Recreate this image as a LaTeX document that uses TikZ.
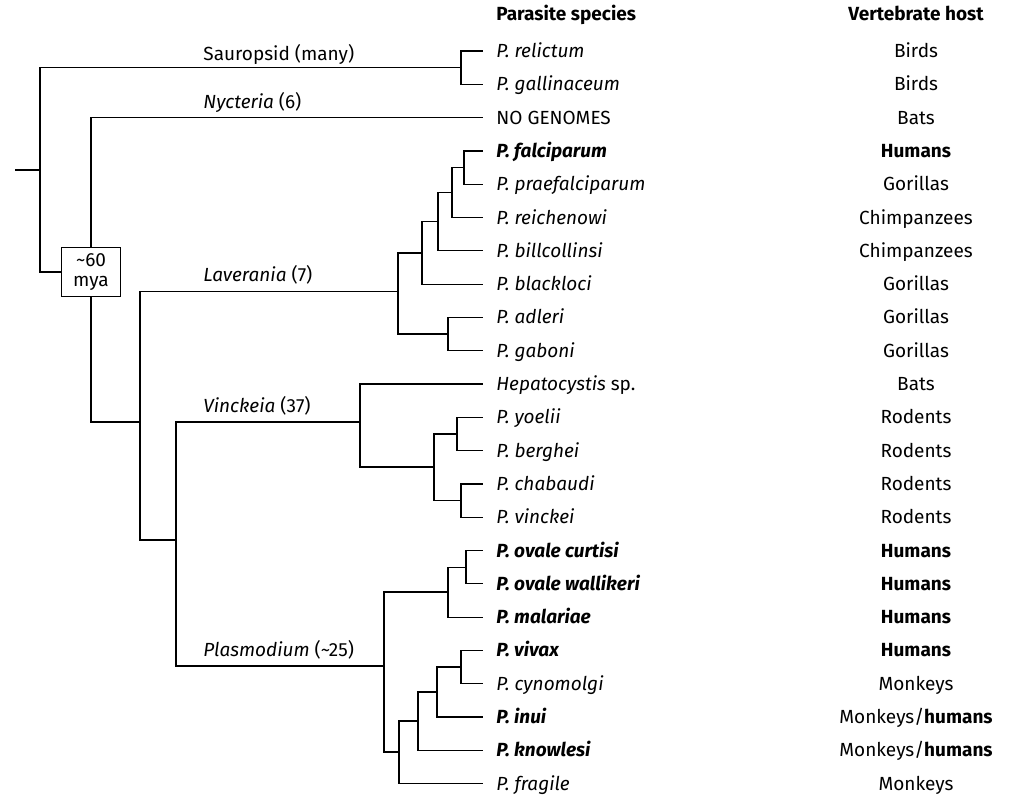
\documentclass[tikz,border=0pt]{standalone}
\usepackage{fontspec}
\setmainfont{Fira Sans}

\tikzset{
    branch/.style={line width=0.6pt},
    leaf/.style={anchor=west, inner xsep=6.5pt, inner ysep=0pt,
        text height=6.5pt, text depth=0pt, font=\fontsize{9.5}{11}\selectfont},
    host/.style={anchor=center, inner sep=0pt,
        text height=6.5pt, text depth=0pt, font=\fontsize{9.5}{11}\selectfont},
    clade/.style={anchor=base west, inner sep=0pt, font=\fontsize{9.5}{11}\selectfont},
    agebox/.style={draw, line width=0.6pt, minimum width=29.5pt, minimum height=24.5pt,
        inner sep=0pt, align=center, font=\fontsize{9.5}{10}\selectfont},
}

\begin{document}
\begin{tikzpicture}[x=0.5pt, y=-0.5pt]
        \useasboundingbox (0,0) rectangle (1010,797);

        % Column headers
        \node[leaf, font=\fontsize{9.5}{11}\selectfont\bfseries] (hspec) at (483,14.5) {Parasite species};
        \node[host, font=\fontsize{9.5}{11}\selectfont\bfseries] (hhost) at (916,14.5) {Vertebrate host};

        % Parasite species (tips)
        \node[leaf] (rel) at (483,51) {\textit{P. relictum}};
        \node[leaf] (gal) at (483,84.3) {\textit{P. gallinaceum}};
        \node[leaf] (nyc) at (483,117.6) {NO GENOMES};
        \node[leaf] (fal) at (483,150.9) {\textbf{\textit{P. falciparum}}};
        \node[leaf] (pra) at (483,184.2) {\textit{P. praefalciparum}};
        \node[leaf] (rei) at (483,217.5) {\textit{P. reichenowi}};
        \node[leaf] (bil) at (483,250.8) {\textit{P. billcollinsi}};
        \node[leaf] (bla) at (483,284.1) {\textit{P. blackloci}};
        \node[leaf] (adl) at (483,317.4) {\textit{P. adleri}};
        \node[leaf] (gab) at (483,350.7) {\textit{P. gaboni}};
        \node[leaf] (hep) at (483,384) {\textit{Hepatocystis} sp.};
        \node[leaf] (yoe) at (483,417.3) {\textit{P. yoelii}};
        \node[leaf] (ber) at (483,450.6) {\textit{P. berghei}};
        \node[leaf] (cha) at (483,483.9) {\textit{P. chabaudi}};
        \node[leaf] (vin) at (483,517.2) {\textit{P. vinckei}};
        \node[leaf] (cur) at (483,550.5) {\textbf{\textit{P. ovale curtisi}}};
        \node[leaf] (wal) at (483,583.8) {\textbf{\textit{P. ovale wallikeri}}};
        \node[leaf] (mal) at (483,617.1) {\textbf{\textit{P. malariae}}};
        \node[leaf] (viv) at (483,650.4) {\textbf{\textit{P. vivax}}};
        \node[leaf] (cyn) at (483,683.7) {\textit{P. cynomolgi}};
        \node[leaf] (inu) at (483,717) {\textbf{\textit{P. inui}}};
        \node[leaf] (kno) at (483,750.3) {\textbf{\textit{P. knowlesi}}};
        \node[leaf] (fra) at (483,783.6) {\textit{P. fragile}};

        % Vertebrate hosts
        \node[host] (hrel) at (916,51) {Birds};
        \node[host] (hgal) at (916,84.3) {Birds};
        \node[host] (hnyc) at (916,117.6) {Bats};
        \node[host] (hfal) at (916,150.9) {\textbf{Humans}};
        \node[host] (hpra) at (916,184.2) {Gorillas};
        \node[host] (hrei) at (916,217.5) {Chimpanzees};
        \node[host] (hbil) at (916,250.8) {Chimpanzees};
        \node[host] (hbla) at (916,284.1) {Gorillas};
        \node[host] (hadl) at (916,317.4) {Gorillas};
        \node[host] (hgab) at (916,350.7) {Gorillas};
        \node[host] (hhep) at (916,384) {Bats};
        \node[host] (hyoe) at (916,417.3) {Rodents};
        \node[host] (hber) at (916,450.6) {Rodents};
        \node[host] (hcha) at (916,483.9) {Rodents};
        \node[host] (hvin) at (916,517.2) {Rodents};
        \node[host] (hcur) at (916,550.5) {\textbf{Humans}};
        \node[host] (hwal) at (916,583.8) {\textbf{Humans}};
        \node[host] (hmal) at (916,617.1) {\textbf{Humans}};
        \node[host] (hviv) at (916,650.4) {\textbf{Humans}};
        \node[host] (hcyn) at (916,683.7) {Monkeys};
        \node[host] (hinu) at (916,717) {Monkeys/\textbf{humans}};
        \node[host] (hkno) at (916,750.3) {Monkeys/\textbf{humans}};
        \node[host] (hfra) at (916,783.6) {Monkeys};

        % Internal nodes of the tree
        \coordinate (stub) at (15,170);
        \coordinate (R) at (40,170);
        \coordinate (S) at (461,67.7);
        \coordinate (A) at (140,422);
        \coordinate (L) at (398,291.5);
        \coordinate (L1) at (422,252.9);
        \coordinate (L3) at (438,221.7);
        \coordinate (L4) at (452,192.5);
        \coordinate (L5) at (464,167.6);
        \coordinate (L2) at (448,334);
        \coordinate (B) at (176,540);
        \coordinate (V) at (360,422);
        \coordinate (V1) at (434,467);
        \coordinate (V2) at (457,434);
        \coordinate (V3) at (461,500.5);
        \coordinate (P) at (384,666);
        \coordinate (P1) at (448,592);
        \coordinate (P3) at (466,567.2);
        \coordinate (P2) at (399,752);
        \coordinate (P6) at (418,721);
        \coordinate (P5) at (437,692);
        \coordinate (P4) at (461,667);

        % Age box
        \node[agebox] (mya) at (91,272) {\textasciitilde60\\mya};

        % Backbone
        \draw[branch] (stub) -- (R);
        \draw[branch] (R) |- (S);
        \draw[branch] (R) |- (mya.west);
        \draw[branch] (mya.north) |- (nyc.west);
        \draw[branch] (mya.south) |- (A);
        \draw[branch] (A) |- (L);
        \draw[branch] (A) |- (B);
        \draw[branch] (B) |- (V);
        \draw[branch] (B) |- (P);

        % Sauropsid
        \draw[branch] (S) |- (rel.west);
        \draw[branch] (S) |- (gal.west);

        % Laverania
        \draw[branch] (L) |- (L1);
        \draw[branch] (L) |- (L2);
        \draw[branch] (L1) |- (L3);
        \draw[branch] (L1) |- (bla.west);
        \draw[branch] (L3) |- (L4);
        \draw[branch] (L3) |- (bil.west);
        \draw[branch] (L4) |- (L5);
        \draw[branch] (L4) |- (rei.west);
        \draw[branch] (L5) |- (fal.west);
        \draw[branch] (L5) |- (pra.west);
        \draw[branch] (L2) |- (adl.west);
        \draw[branch] (L2) |- (gab.west);

        % Vinckeia
        \draw[branch] (V) |- (hep.west);
        \draw[branch] (V) |- (V1);
        \draw[branch] (V1) |- (V2);
        \draw[branch] (V1) |- (V3);
        \draw[branch] (V2) |- (yoe.west);
        \draw[branch] (V2) |- (ber.west);
        \draw[branch] (V3) |- (cha.west);
        \draw[branch] (V3) |- (vin.west);

        % Plasmodium
        \draw[branch] (P) |- (P1);
        \draw[branch] (P) |- (P2);
        \draw[branch] (P1) |- (P3);
        \draw[branch] (P1) |- (mal.west);
        \draw[branch] (P3) |- (cur.west);
        \draw[branch] (P3) |- (wal.west);
        \draw[branch] (P2) |- (P6);
        \draw[branch] (P2) |- (fra.west);
        \draw[branch] (P6) |- (P5);
        \draw[branch] (P6) |- (kno.west);
        \draw[branch] (P5) |- (P4);
        \draw[branch] (P5) |- (inu.west);
        \draw[branch] (P4) |- (viv.west);
        \draw[branch] (P4) |- (cyn.west);

        % Clade labels
        \node[clade] (csau) at (203,61) {Sauropsid (many)};
        \node[clade] (cnyc) at (203,109) {\textit{Nycteria} (6)};
        \node[clade] (clav) at (203,281) {\textit{Laverania} (7)};
        \node[clade] (cvin) at (203,412) {\textit{Vinckeia} (37)};
        \node[clade] (cpla) at (203,656) {\textit{Plasmodium} (\textasciitilde25)};
    \end{tikzpicture}
\end{document}
